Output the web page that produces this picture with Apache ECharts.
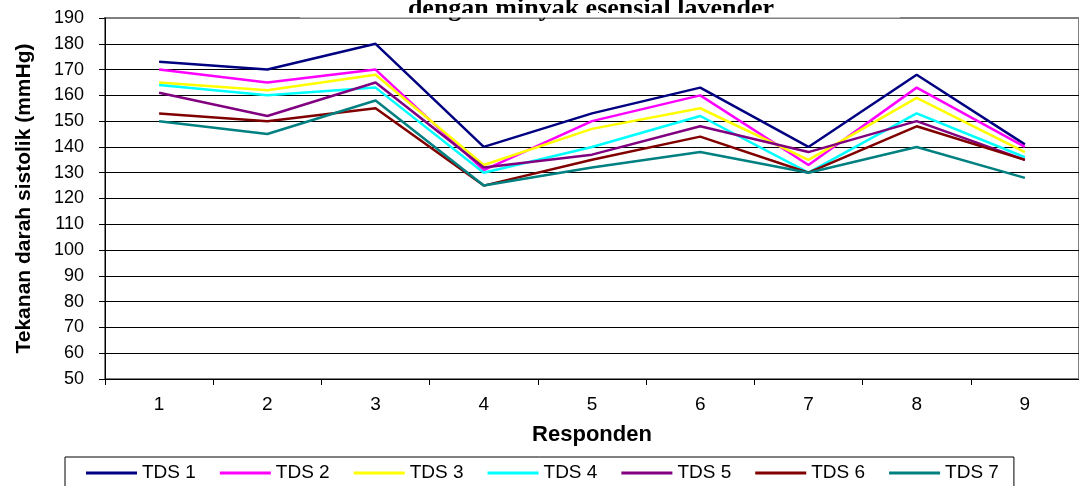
<!DOCTYPE html>
<html>
<head>
<meta charset="utf-8">
<title>Tekanan darah sistolik</title>
<script src="https://cdn.jsdelivr.net/npm/echarts@6/dist/echarts.min.js"></script>
<style>
  html, body { margin: 0; padding: 0; background: #fff; }
  #chart { width: 1079px; height: 486px; }
</style>
</head>
<body>
<div id="chart"></div>
<script>
// data
var responden = ['1', '2', '3', '4', '5', '6', '7', '8', '9'];
var seriesNames = ['TDS 1', 'TDS 2', 'TDS 3', 'TDS 4', 'TDS 5', 'TDS 6', 'TDS 7'];
var tds1 = [173, 170, 180, 140, 153, 163, 140, 168, 141];
var tds2 = [170, 165, 170, 131, 150, 160, 133, 163, 140];
var tds3 = [165, 162, 168, 133, 147, 155, 135, 159, 138];
var tds4 = [164, 160, 163, 130, 140, 152, 130, 153, 136];
var tds5 = [161, 152, 165, 132, 137, 148, 138, 150, 135];
var tds6 = [153, 150, 155, 125, 135, 144, 130, 148, 135];
var tds7 = [150, 145, 158, 125, 132, 138, 130, 140, 128];
var colors = ['#000080', '#FF00FF', '#FFFF00', '#00FFFF', '#800080', '#800000', '#008080'];

var allData = [tds1, tds2, tds3, tds4, tds5, tds6, tds7];
var sans = 'Arial, "Liberation Sans", sans-serif';

var myChart = echarts.init(document.getElementById('chart'));

var series = [];
for (var i = 0; i < allData.length; i++) {
    series.push({
        name: seriesNames[i],
        type: 'line',
        data: allData[i],
        symbol: 'none',
        lineStyle: { color: colors[i], width: 2.5 },
        itemStyle: { color: colors[i] }
    });
}

var option = {
    animation: false,
    backgroundColor: '#fff',
    color: colors,
    title: {
        text: 'dengan minyak esensial lavender',
        left: 586,
        top: -9,
        textAlign: 'center',
        z: 1,
        textStyle: {
            fontFamily: 'Times New Roman, "Liberation Serif", serif',
            fontWeight: 'bold',
            fontSize: 26,
            color: '#000'
        }
    },
    // hides the title descenders like the plot area does in the original
    graphic: [{
        type: 'rect',
        z: 10,
        shape: { x: 300, y: 13, width: 600, height: 4.5 },
        style: { fill: '#fff' }
    }],
    grid: {
        left: 105,
        top: 18,
        width: 981,
        height: 361,
        show: true,
        borderColor: '#808080',
        borderWidth: 2,
        backgroundColor: 'transparent'
    },
    legend: {
        data: seriesNames,
        left: 65,
        top: 457,
        orient: 'horizontal',
        icon: 'rect',
        itemWidth: 51,
        itemHeight: 3,
        itemGap: 24,
        padding: [6, 15, 6, 21],
        borderColor: '#000',
        borderWidth: 1,
        textStyle: { fontFamily: sans, fontSize: 19, color: '#000', lineHeight: 20 }
    },
    xAxis: {
        type: 'category',
        data: responden,
        name: 'Responden',
        nameLocation: 'middle',
        nameGap: 45,
        nameTextStyle: { fontFamily: sans, fontSize: 22, fontWeight: 'bold', color: '#000' },
        axisLine: { lineStyle: { color: '#000', width: 1 } },
        axisTick: { show: true, length: 6, lineStyle: { color: '#000' } },
        axisLabel: { margin: 16, fontFamily: sans, fontSize: 19, color: '#000' },
        splitLine: { show: false }
    },
    yAxis: {
        type: 'value',
        min: 50,
        max: 190,
        interval: 10,
        name: 'Tekanan darah sistolik (mmHg)',
        nameLocation: 'middle',
        nameGap: 81,
        nameTextStyle: { fontFamily: sans, fontSize: 21, fontWeight: 'bold', color: '#000', verticalAlign: 'middle' },
        axisLine: { show: true, lineStyle: { color: '#000', width: 1 } },
        axisTick: { show: true, length: 6, lineStyle: { color: '#000' } },
        axisLabel: { margin: 21, fontFamily: sans, fontSize: 18, color: '#000' },
        splitLine: { show: true, showMaxLine: false, lineStyle: { color: '#000', width: 1 } }
    },
    series: series
};

if (option && typeof option === 'object') {
    myChart.setOption(option, true);
}
</script>
</body>
</html>
